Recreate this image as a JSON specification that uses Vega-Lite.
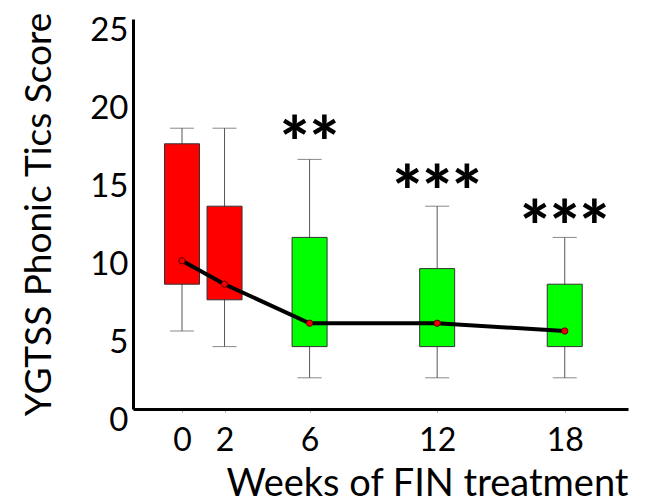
{
  "$schema": "https://vega.github.io/schema/vega-lite/v6.json",
  "width": 495,
  "height": 390,
  "autosize": "none",
  "padding": {"left": 133, "top": 19, "right": 23, "bottom": 95},
  "background": "white",
  "config": {
    "view": {"stroke": null},
    "font": "Lato",
    "axis": {"grid": false, "domainColor": "black", "domainWidth": 3, "labelFont": "Lato", "titleFont": "Lato", "labelColor": "black", "titleColor": "black", "titleFontWeight": "normal"}
  },
  "datasets": {
    "boxes": [
      {"week": 0, "group": "pre", "lo": 5, "q1": 8, "q3": 17, "hi": 18, "median": 9.5},
      {"week": 2, "group": "pre", "lo": 4, "q1": 7, "q3": 13, "hi": 18, "median": 8},
      {"week": 6, "group": "treat", "lo": 2, "q1": 4, "q3": 11, "hi": 16, "median": 5.5},
      {"week": 12, "group": "treat", "lo": 2, "q1": 4, "q3": 9, "hi": 13, "median": 5.5},
      {"week": 18, "group": "treat", "lo": 2, "q1": 4, "q3": 8, "hi": 11, "median": 5}
    ],
    "stars": [
      {"week": 6, "pos": 18.0, "sig": "**"},
      {"week": 12, "pos": 14.9, "sig": "***"},
      {"week": 18, "pos": 12.6, "sig": "***"}
    ]
  },
  "layer": [
    {
      "data": {"name": "boxes"},
      "mark": {"type": "rule", "color": "#555555", "strokeWidth": 1},
      "encoding": {
        "x": {"field": "week", "type": "quantitative", "scale": {"domain": [-2.07, 20.74], "nice": false, "zero": false},
          "axis": {"values": [0, 2, 6, 12, 18], "title": "Weeks of FIN treatment", "titleFontSize": 38, "labelFontSize": 32, "tickSize": 3, "tickColor": "#999999", "labelPadding": 13, "titleAnchor": "end", "titlePadding": 9}},
        "y": {"field": "lo", "type": "quantitative", "scale": {"domain": [0, 25], "nice": false},
          "axis": {"values": [0, 5, 10, 15, 20, 25], "title": "YGTSS  Phonic Tics Score", "titleFontSize": 37, "labelFontSize": 33, "ticks": false, "labelPadding": 5, "labelOffset": 11, "titlePadding": 31}},
        "y2": {"field": "hi"}
      }
    },
    {
      "data": {"name": "boxes"},
      "mark": {"type": "tick", "orient": "horizontal", "size": 24, "thickness": 1, "color": "#555555"},
      "encoding": {
        "x": {"field": "week", "type": "quantitative"},
        "y": {"field": "hi", "type": "quantitative"}
      }
    },
    {
      "data": {"name": "boxes"},
      "mark": {"type": "tick", "orient": "horizontal", "size": 24, "thickness": 1, "color": "#555555"},
      "encoding": {
        "x": {"field": "week", "type": "quantitative"},
        "y": {"field": "lo", "type": "quantitative"}
      }
    },
    {
      "data": {"name": "boxes"},
      "mark": {"type": "bar", "width": 35, "stroke": "#333333", "strokeWidth": 1},
      "encoding": {
        "x": {"field": "week", "type": "quantitative"},
        "y": {"field": "q1", "type": "quantitative"},
        "y2": {"field": "q3"},
        "color": {"field": "group", "type": "nominal", "scale": {"domain": ["pre", "treat"], "range": ["#ff0000", "#00ff00"]}, "legend": null}
      }
    },
    {
      "data": {"name": "boxes"},
      "mark": {"type": "line", "color": "black", "strokeWidth": 4},
      "encoding": {
        "x": {"field": "week", "type": "quantitative"},
        "y": {"field": "median", "type": "quantitative"}
      }
    },
    {
      "data": {"name": "boxes"},
      "mark": {"type": "point", "filled": true, "fill": "#ee0000", "stroke": "#660000", "strokeWidth": 1, "size": 40, "opacity": 1},
      "encoding": {
        "x": {"field": "week", "type": "quantitative"},
        "y": {"field": "median", "type": "quantitative"}
      }
    },
    {
      "data": {"name": "stars"},
      "mark": {"type": "text", "fontSize": 70, "fontWeight": 900, "font": "Lato", "baseline": "middle", "align": "center", "dy": 19, "color": "black"},
      "encoding": {
        "x": {"field": "week", "type": "quantitative"},
        "y": {"field": "pos", "type": "quantitative"},
        "text": {"field": "sig"}
      }
    }
  ]
}
